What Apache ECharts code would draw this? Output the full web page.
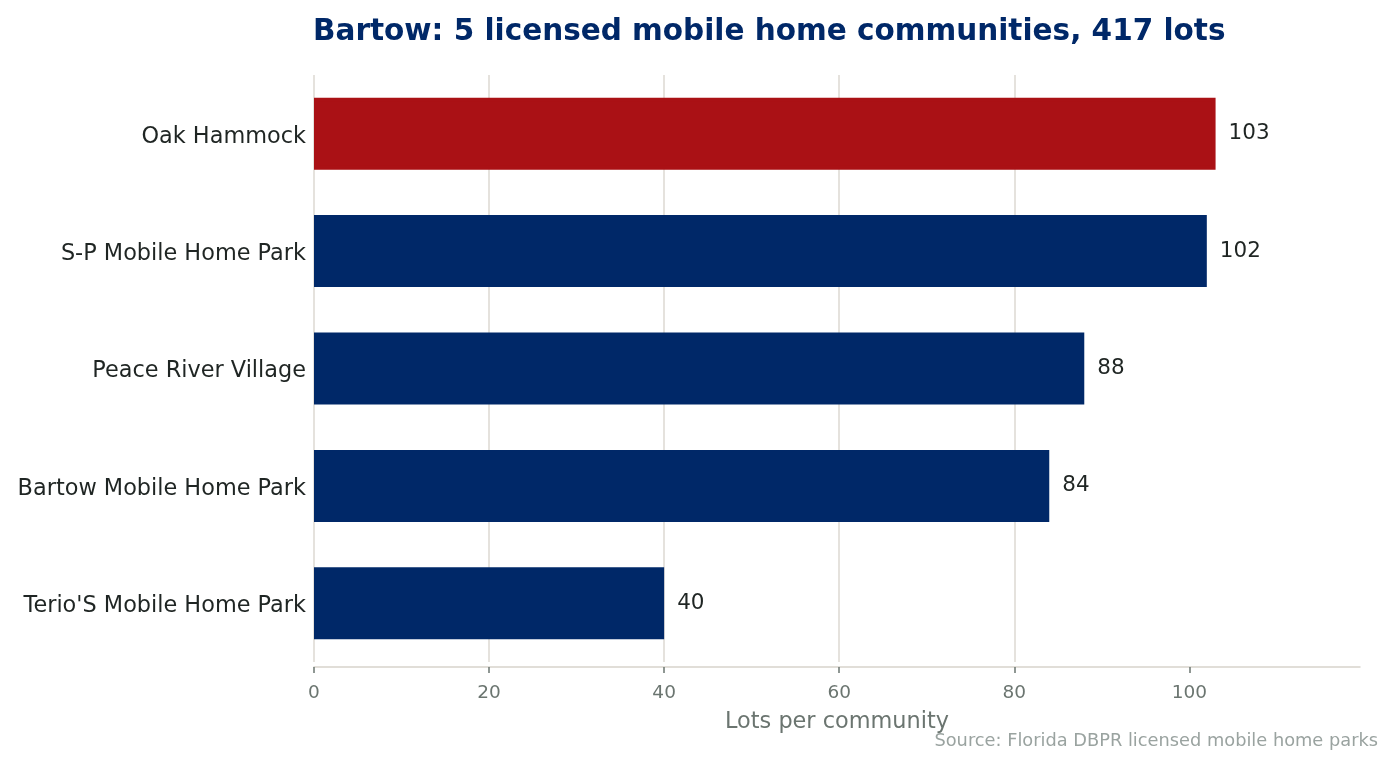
<!DOCTYPE html>
<html>
<head>
<meta charset="utf-8">
<title>Bartow mobile home communities</title>
<script src="https://cdn.jsdelivr.net/npm/echarts@6/dist/echarts.min.js"></script>
<style>
  html, body { margin: 0; padding: 0; background: #fff; }
  #chart { width: 1395px; height: 768px; }
</style>
</head>
<body>
<div id="chart"></div>
<script>
// data, top to bottom
var communities = [
  'Oak Hammock',
  'S-P Mobile Home Park',
  'Peace River Village',
  'Bartow Mobile Home Park',
  "Terio'S Mobile Home Park"
];
var lots = [103, 102, 88, 84, 40];
var highlight = 'Oak Hammock';
var xTicks = [0, 20, 40, 60, 80, 100];

var navy = '#002868';
var red = '#aa1115';
var font = 'DejaVu Sans';

var chart = echarts.init(document.getElementById('chart'));

var barData = communities.map(function (name, i) {
  if (name === highlight) {
    return {
      value: lots[i],
      itemStyle: { color: red, borderColor: red, borderWidth: 4 }
    };
  }
  return { value: lots[i], itemStyle: { color: navy } };
});

chart.setOption({
  backgroundColor: '#ffffff',
  animation: false,
  title: {
    text: 'Bartow: 5 licensed mobile home communities, 417 lots',
    left: 308,
    top: 12,
    textStyle: {
      color: navy,
      fontFamily: font,
      fontWeight: 'bold',
      fontSize: 29.5
    }
  },
  grid: {
    left: 314,
    right: 35,
    top: 75,
    bottom: 106
  },
  xAxis: {
    type: 'value',
    min: 0,
    max: 119.5,
    interval: 20,
    offset: 5,
    name: 'Lots per community',
    nameLocation: 'middle',
    nameGap: 44,
    nameTextStyle: {
      color: '#6b7570',
      fontFamily: font,
      fontSize: 22.4
    },
    axisLine: { show: true, lineStyle: { color: '#d8d4cc', width: 1.5 } },
    axisTick: {
      show: true,
      length: 6,
      customValues: xTicks,
      lineStyle: { color: '#6b7570', width: 1.5 }
    },
    axisLabel: {
      color: '#6b7570',
      fontFamily: font,
      fontSize: 18.5,
      margin: 17,
      customValues: xTicks
    },
    splitLine: {
      show: true,
      showMaxLine: false,
      lineStyle: { color: '#dcd8d2', width: 1.5 }
    }
  },
  yAxis: {
    type: 'category',
    inverse: true,
    data: communities,
    axisLine: { show: false },
    axisTick: { show: false },
    axisLabel: {
      margin: 8,
      formatter: function (v) { return '{c|' + v + '}'; },
      rich: {
        c: {
          color: '#1f2523',
          fontFamily: font,
          fontSize: 22.4,
          padding: [6, 0, 0, 0]
        }
      }
    }
  },
  series: [{
    type: 'bar',
    data: barData,
    barWidth: 72,
    label: {
      show: true,
      position: 'right',
      distance: 13,
      color: '#1f2523',
      fontFamily: font,
      fontSize: 21.5,
      padding: [2, 0, 0, 0]
    }
  }],
  graphic: [{
    type: 'text',
    right: 17,
    top: 732,
    style: {
      text: 'Source: Florida DBPR licensed mobile home parks',
      fill: '#9aa3a0',
      font: '17.8px "DejaVu Sans"'
    }
  }]
});
</script>
</body>
</html>
